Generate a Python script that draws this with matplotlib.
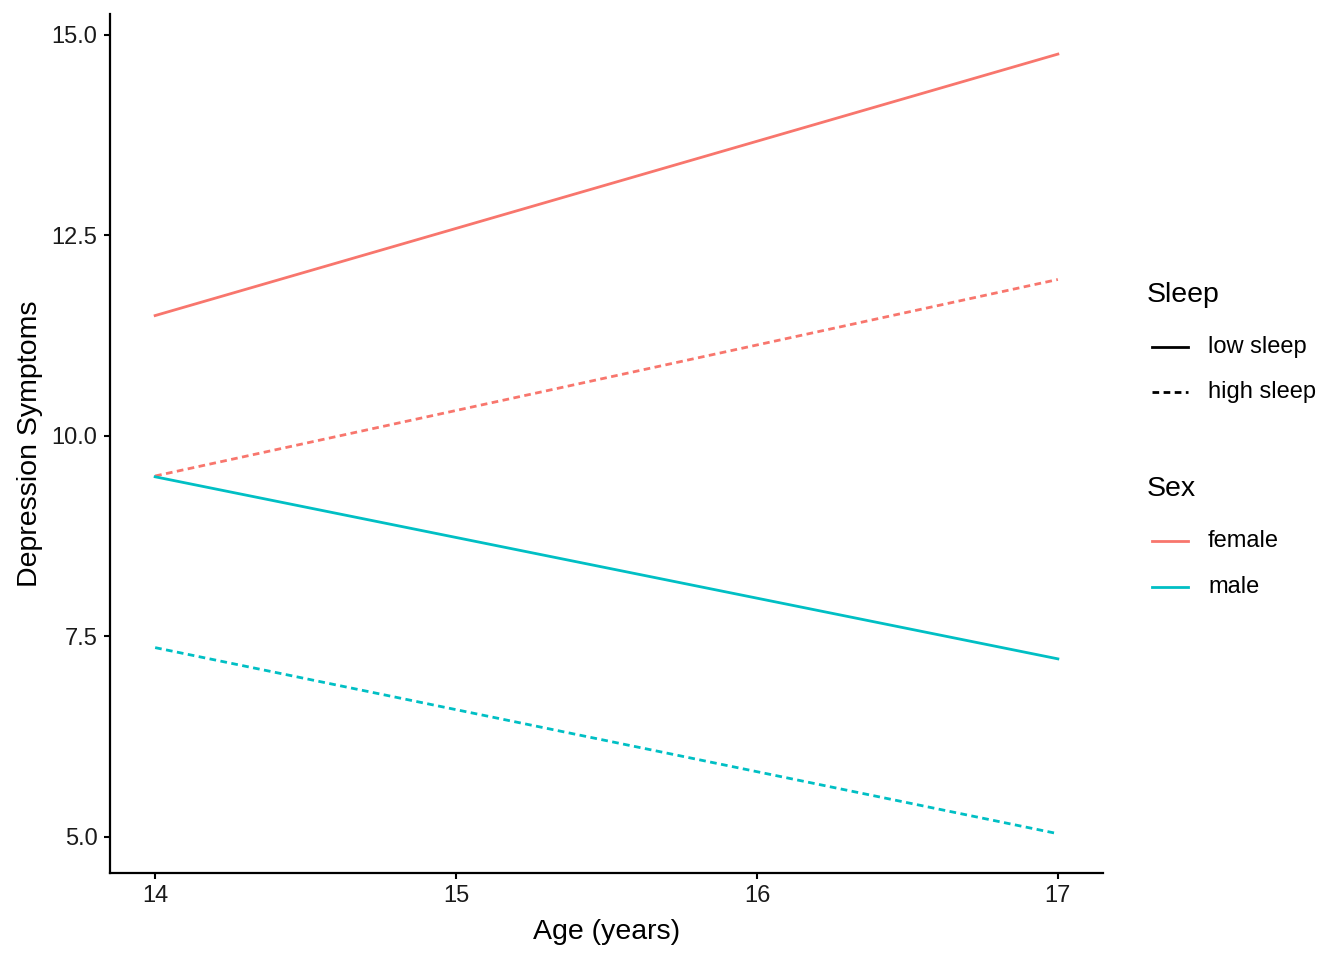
import numpy as np
import matplotlib
matplotlib.use("Agg")
from matplotlib import pyplot as plt
from matplotlib.lines import Line2D

plt.rcParams['font.family'] = ['Liberation Sans', 'DejaVu Sans']

# data (predicted values at the end ages)
age = [14, 17]
female_low = [11.50, 14.76]
female_high = [9.50, 11.95]
male_low = [9.49, 7.22]
male_high = [7.36, 5.04]

sleep_labels = ['low sleep', 'high sleep']
sex_labels = ['female', 'male']

red = '#F8766D'
teal = '#00BFC4'
dash = (2.4, 1.6)
W, H = 1344, 960

fig = plt.figure(figsize=(13.44, 9.6), dpi=100)
ax = fig.add_axes([110/W, 1-873/H, (1103-110)/W, (873-14)/H])

lw = 2.0
ax.plot(age, female_low, color=red, lw=lw)
ax.plot(age, female_high, color=red, lw=lw, dashes=dash)
ax.plot(age, male_low, color=teal, lw=lw)
ax.plot(age, male_high, color=teal, lw=lw, dashes=dash)

ax.set_xlim(13.85, 17.15)
ax.set_ylim(4.55, 15.26)
ax.set_xticks([14, 15, 16, 17])
ax.set_yticks([5.0, 7.5, 10.0, 12.5, 15.0])
ax.set_yticklabels(['5.0', '7.5', '10.0', '12.5', '15.0'])

ax.set_xlabel('Age (years)', fontsize=20.5, labelpad=8)
ax.set_ylabel('Depression Symptoms', fontsize=20.5, labelpad=6)

ax.tick_params(axis='both', labelsize=17, length=4, width=1.5, pad=5, colors='black')
ax.tick_params(axis='both', labelcolor='#1a1a1a')

# remove axis spines
ax.spines["top"].set_visible(False)
ax.spines["right"].set_visible(False)
ax.spines["bottom"].set_linewidth(1.6)
ax.spines["left"].set_linewidth(1.6)

# legends, drawn by hand in pixel positions
def key(y, color, dashes=None):
    kw = dict(color=color, lw=lw, transform=fig.transFigure)
    if dashes:
        kw['dashes'] = dashes
    fig.add_artist(Line2D([1152/W, 1188/W], [1-y/H, 1-y/H], **kw))

fig.text(1147/W, 1-295/H, 'Sleep', fontsize=20.5, va='center', ha='left')
for y, lab, d in zip([347, 392], sleep_labels, [None, dash]):
    key(y, 'black', d)
    fig.text(1208/W, 1-y/H, lab, fontsize=17, va='center', ha='left')

fig.text(1147/W, 1-489/H, 'Sex', fontsize=20.5, va='center', ha='left')
for y, lab, c in zip([541, 587], sex_labels, [red, teal]):
    key(y, c)
    fig.text(1208/W, 1-y/H, lab, fontsize=17, va='center', ha='left')

fig.savefig('out.png', dpi=100)
